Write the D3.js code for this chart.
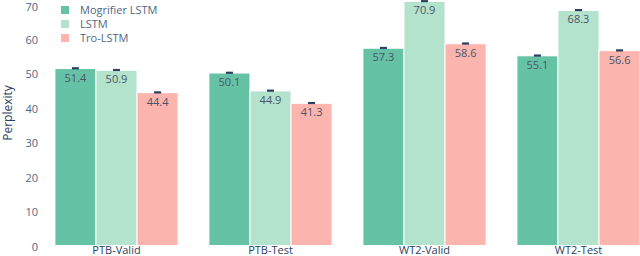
<!DOCTYPE html>
<html>
<head>
<meta charset="utf-8">
<script src="https://cdn.jsdelivr.net/npm/d3@7"></script>
<style>
  html, body { margin: 0; padding: 0; background: #fff; }
  svg { display: block; font-family: "Open Sans", sans-serif; }
</style>
</head>
<body>
<svg id="chart" width="640" height="256"></svg>
<script>
const categories = ["PTB-Valid", "PTB-Test", "WT2-Valid", "WT2-Test"];
const seriesNames = ["Mogrifier LSTM", "LSTM", "Tro-LSTM"];
const mogrifier = [51.4, 50.1, 57.3, 55.1];
const lstm = [50.9, 44.9, 70.9, 68.3];
const tro = [44.4, 41.3, 58.6, 56.6];
const errMogrifier = [0.1, 0.1, 0.1, 0.1];
const errLstm = [0.1, 0.1, 0.1, 0.1];
const errTro = [0.1, 0.1, 0.1, 0.1];
const yTicks = [0, 10, 20, 30, 40, 50, 60, 70];
const colors = ["#66c2a5", "#b3e2cd", "#fbb4ae"];

const series = [mogrifier, lstm, tro];
const errs = [errMogrifier, errLstm, errTro];

const svg = d3.select("#chart");
const x0 = d3.scaleBand().domain(categories).range([39.5, 655.5]).paddingInner(0.2).paddingOuter(0.1);
const x1 = d3.scaleBand().domain(seriesNames).range([0, x0.bandwidth()]).padding(0);
const y = d3.scaleLinear().domain([0, 70]).range([245.5, 4.5]);

// y axis tick labels
const yAxis = d3.axisLeft(y).tickValues(yTicks).tickSize(0).tickPadding(0).tickFormat(d3.format("d"));
const ya = svg.append("g").attr("transform", "translate(38,0)").call(yAxis);
ya.select(".domain").remove();
ya.selectAll("text").attr("font-size", 11).attr("fill", "#506784").attr("font-family", "Open Sans, sans-serif")
  .attr("dy", d => d === 70 ? "0.55em" : "0.42em");

// x axis labels
const xAxis = d3.axisBottom(x0).tickSize(0).tickPadding(0);
const xa = svg.append("g").attr("transform", "translate(0,245)").call(xAxis);
xa.select(".domain").remove();
xa.selectAll("text").attr("font-size", 11).attr("fill", "#2a3f5f").attr("dy", "0.75em").attr("y", 1).attr("font-family", "Open Sans, sans-serif");

// bars
const rows = [];
categories.forEach((c, i) => {
  seriesNames.forEach((s, j) => {
    rows.push({ cat: c, name: s, v: series[j][i], e: errs[j][i], color: colors[j] });
  });
});

const g = svg.append("g");
g.selectAll("rect.bar").data(rows).join("rect")
  .attr("class", "bar")
  .attr("x", d => x0(d.cat) + x1(d.name))
  .attr("y", d => y(d.v))
  .attr("width", x1.bandwidth())
  .attr("height", d => y(0) - y(d.v))
  .attr("fill", d => d.color)
  .attr("stroke", "#ffffff")
  .attr("stroke-width", 1);

// error bars
const eb = g.selectAll("g.err").data(rows).join("g").attr("class", "err");
eb.append("line")
  .attr("x1", d => x0(d.cat) + x1(d.name) + x1.bandwidth() / 2 - 3.5)
  .attr("x2", d => x0(d.cat) + x1(d.name) + x1.bandwidth() / 2 + 3.5)
  .attr("y1", d => y(d.v + d.e))
  .attr("y2", d => y(d.v + d.e))
  .attr("stroke", "#2a3f5f").attr("stroke-width", 2);
eb.append("line")
  .attr("x1", d => x0(d.cat) + x1(d.name) + x1.bandwidth() / 2 - 3.5)
  .attr("x2", d => x0(d.cat) + x1(d.name) + x1.bandwidth() / 2 + 3.5)
  .attr("y1", d => y(d.v - d.e))
  .attr("y2", d => y(d.v - d.e))
  .attr("stroke", "#2a3f5f").attr("stroke-width", 1).attr("opacity", 0.6);

// value labels
g.selectAll("text.val").data(rows).join("text")
  .attr("class", "val")
  .attr("x", d => x0(d.cat) + x1(d.name) + x1.bandwidth() / 2)
  .attr("y", d => y(d.v) + 13)
  .attr("text-anchor", "middle")
  .attr("font-size", 11)
  .attr("fill", "#4a5568")
  .text(d => d.v.toFixed(1));

// y title
svg.append("text")
  .attr("transform", "translate(12,113) rotate(-90)")
  .attr("text-anchor", "middle")
  .attr("font-size", 12)
  .attr("fill", "#2a3f5f")
  .text("Perplexity");

// legend
const lg = svg.append("g").attr("transform", "translate(61,0)");
seriesNames.forEach((s, j) => {
  const yy = 10 + j * 14;
  lg.append("rect").attr("x", 0).attr("y", yy - 4).attr("width", 8).attr("height", 8).attr("fill", colors[j]);
  lg.append("text").attr("x", 19).attr("y", yy).attr("dy", "0.35em")
    .attr("font-size", 11).attr("fill", "#506784").text(s);
});
</script>
</body>
</html>
